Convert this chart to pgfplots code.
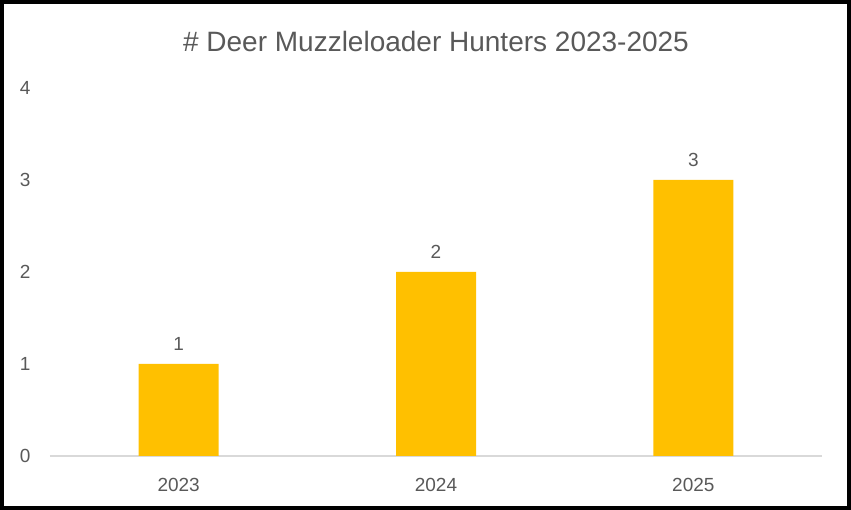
\documentclass[border=0pt]{standalone}
\usepackage{pgfplots}
\pgfplotsset{compat=1.18}
\usepackage{fontspec}
\setmainfont{Liberation Sans}
\definecolor{bargold}{HTML}{FFC000}
\definecolor{txtgray}{HTML}{595959}
\definecolor{axgray}{HTML}{D9D9D9}
\begin{document}
\begin{tikzpicture}[x=1pt,y=1pt]
\useasboundingbox (-50,-54) rectangle (801,456);
\begin{axis}[
  at={(0,0)}, anchor=south west,
  scale only axis, width=772pt, height=368pt,
  xmin=-0.5, xmax=2.5, ymin=0, ymax=4,
  ytick={0,1,2,3,4},
  xtick={0,1,2}, xticklabels={2023,2024,2025},
  axis x line*=bottom, axis y line*=left,
  x axis line style={axgray, line width=1.5pt, -},
  y axis line style={draw=none},
  major tick length=0pt,
  tick label style={font=\fontsize{19}{22}\selectfont, text=txtgray},
  /pgf/number format/assume math mode=true,
  xticklabel style={yshift=-19pt},
  yticklabel style={xshift=-16pt},
  ybar, bar width=80pt,
  nodes near coords,
  nodes near coords style={font=\fontsize{19}{22}\selectfont, text=txtgray, yshift=10pt},
  title={\# Deer Muzzleloader Hunters 2023-2025},
  title style={at={(axis description cs:0.5,1.111)}, anchor=center, font=\fontsize{28}{32}\selectfont, text=txtgray},
  clip=false,
]
\addplot[fill=bargold, draw=none] coordinates {(0,1) (1,2) (2,3)};
\end{axis}
\draw[line width=4pt, black] (-48,-52) rectangle (799,454);
\end{tikzpicture}
\end{document}
